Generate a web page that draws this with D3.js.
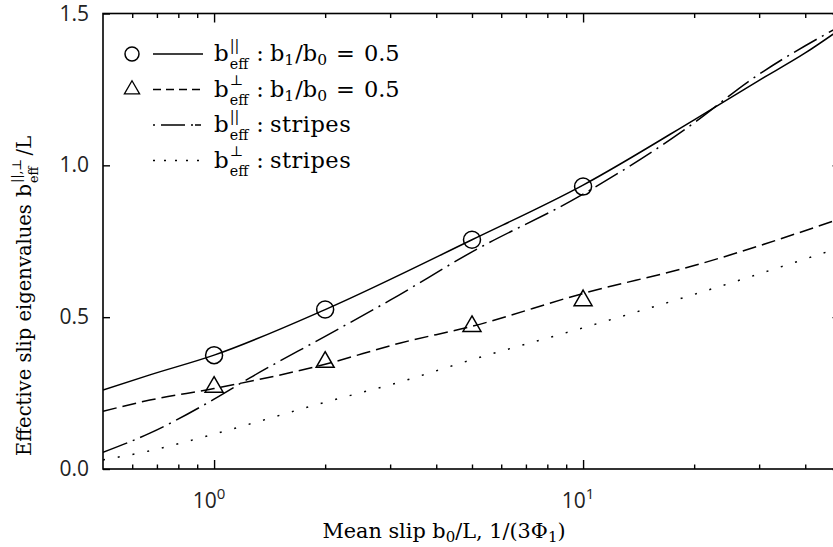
<!DOCTYPE html>
<html><head><meta charset="utf-8">
<script src="https://cdn.jsdelivr.net/npm/d3@7"></script>
<style>
html,body{margin:0;padding:0;background:#fff;}
svg{display:block;}
</style></head>
<body>
<svg id="chart" width="833" height="547"></svg>
<script>
// ---- data ----
const xSolid = [0.5, 0.67, 1, 2, 5, 10, 20, 30, 40, 50];
const ySolid = [0.26, 0.31, 0.375, 0.525, 0.755, 0.935, 1.15, 1.28, 1.37, 1.45];
const xDashed = [0.5, 0.67, 1, 2, 3.2, 5, 10, 20, 50];
const yDashed = [0.19, 0.227, 0.265, 0.345, 0.415, 0.47, 0.578, 0.67, 0.825];
const xDashDot = [0.5, 0.67, 1, 1.25, 2, 3, 5, 10, 20, 28, 50];
const yDashDot = [0.055, 0.118, 0.23, 0.30, 0.437, 0.556, 0.715, 0.905, 1.14, 1.275, 1.46];
const xDotted = [0.5, 0.67, 1, 2, 3.2, 5, 10, 20, 50];
const yDotted = [0.03, 0.06, 0.115, 0.22, 0.287, 0.36, 0.465, 0.575, 0.73];
const xCircles = [1, 2, 5, 10];
const yCircles = [0.375, 0.525, 0.755, 0.93];
const xTriangles = [1, 2, 5, 10];
const yTriangles = [0.27, 0.352, 0.47, 0.555];
const yTickValues = [0, 0.5, 1.0, 1.5];
const yTickLabels = ["0.0", "0.5", "1.0", "1.5"];
const xMajorTicks = [1, 10];
const xMajorExp = ["0", "1"];
const xMinorTicks = [0.6,0.7,0.8,0.9,2,3,4,5,6,7,8,9,20,30,40];

const serif = "'DejaVu Serif', serif";
const sans = "'Open Sans', 'DejaVu Sans', sans-serif";

const svg = d3.select("#chart");
const pL = 103, pR = 841, pT = 13.5, pB = 469;
const x = d3.scaleLog().domain([0.5, 50]).range([pL, pR]);
const y = d3.scaleLinear().domain([0, 1.5]).range([pB, pT]);

// frame
svg.append("rect").attr("x", pL).attr("y", pT).attr("width", pR-pL).attr("height", pB-pT)
  .attr("fill","none").attr("stroke","#000").attr("stroke-width",1.6);

function axisTicks(axis, transform, values, size){
  const g = svg.append("g").attr("transform", transform)
    .call(axis.tickValues(values).tickSize(size).tickFormat(""));
  g.select(".domain").remove();
  g.selectAll("line").attr("stroke","#000").attr("stroke-width",1.4);
  return g;
}
axisTicks(d3.axisBottom(x), `translate(0,${pB})`, xMinorTicks, -4.5);
axisTicks(d3.axisBottom(x), `translate(0,${pB})`, xMajorTicks, -9);
axisTicks(d3.axisTop(x), `translate(0,${pT})`, xMinorTicks, -4.5);
axisTicks(d3.axisTop(x), `translate(0,${pT})`, xMajorTicks, -9);
axisTicks(d3.axisLeft(y), `translate(${pL},0)`, yTickValues, -7);
axisTicks(d3.axisRight(y), `translate(${pR},0)`, yTickValues, -8.5);

// tick labels
svg.append("g").selectAll("text").data(yTickValues).join("text")
  .attr("x", pL - 14).attr("y", d => y(d) + 7)
  .attr("text-anchor","end").attr("font-family", sans).attr("font-size", 21)
  .attr("fill","#222")
  .text((d,i) => yTickLabels[i]);

xMajorTicks.forEach((v,i) => {
  const t = svg.append("text").attr("x", x(v) - 5).attr("y", pB + 39)
    .attr("text-anchor","middle").attr("font-family", sans).attr("font-size", 21).attr("fill","#222");
  t.append("tspan").text("10");
  t.append("tspan").attr("dy", -9).attr("font-size", 15).text(xMajorExp[i]);
});

// lines
const line = d3.line().x(d => x(d[0])).y(d => y(d[1])).curve(d3.curveMonotoneX);
svg.append("clipPath").attr("id","clip").append("rect")
  .attr("x",pL).attr("y",pT).attr("width",pR-pL).attr("height",pB-pT);
const plot = svg.append("g").attr("clip-path","url(#clip)");
function drawLine(xs, ys, dash){
  plot.append("path").datum(xs.map((v,i)=>[v, ys[i]]))
    .attr("d", line).attr("fill","none").attr("stroke","#000").attr("stroke-width",1.5)
    .attr("stroke-dasharray", dash);
}
drawLine(xSolid, ySolid, null);
drawLine(xDashed, yDashed, "14,6");
drawLine(xDashDot, yDashDot, "26,6,2,6");
drawLine(xDotted, yDotted, "2,13");

// markers
plot.append("g").selectAll("circle").data(xCircles).join("circle")
  .attr("cx", d => x(d)).attr("cy", (d,i) => y(yCircles[i])).attr("r", 8.5)
  .attr("fill","none").attr("stroke","#000").attr("stroke-width",1.5);
const tri = d3.symbol().type(d3.symbolTriangle).size(140);
plot.append("g").selectAll("path").data(xTriangles).join("path")
  .attr("transform", (d,i) => `translate(${x(d)},${y(yTriangles[i])})`)
  .attr("d", tri).attr("fill","none").attr("stroke","#000").attr("stroke-width",1.5);

// helper for b with stacked sup/sub
function bLabel(parent, x0, y0, size, sup, sub, family){
  const g = parent.append("g");
  const b = g.append("text").attr("x", x0).attr("y", y0).attr("font-family", family).attr("font-size", size).text("b");
  const w = b.node().getComputedTextLength();
  const s1 = g.append("text").attr("x", x0 + w + 1).attr("y", y0 - size*0.48).attr("font-family", family)
    .attr("font-size", size*0.62).text(sup);
  const s2 = g.append("text").attr("x", x0 + w + 1).attr("y", y0 + size*0.36).attr("font-family", family)
    .attr("font-size", size*0.62).text(sub);
  const w2 = Math.max(s1.node().getComputedTextLength(), s2.node().getComputedTextLength());
  return x0 + w + 1 + w2;
}

// legend
const legendRows = [
  {marker:"circle", dash:null, sup:"||", rest:"b1b0"},
  {marker:"triangle", dash:"8,5", sup:"⊥", rest:"b1b0"},
  {marker:null, dash:"2,6,24,6,2", sup:"||", rest:"stripes"},
  {marker:null, dash:"2,9", sup:"⊥", rest:"stripes"}
];
const lg = svg.append("g");
legendRows.forEach((r,i) => {
  const cy = 54 + i*35.5;
  if (r.marker === "circle") lg.append("circle").attr("cx",132).attr("cy",cy).attr("r",7)
      .attr("fill","none").attr("stroke","#000").attr("stroke-width",1.5);
  if (r.marker === "triangle") lg.append("path").attr("transform",`translate(132,${cy})`)
      .attr("d", d3.symbol().type(d3.symbolTriangle).size(100)).attr("fill","none").attr("stroke","#000").attr("stroke-width",1.3);
  lg.append("line").attr("x1",153).attr("x2",203).attr("y1",cy).attr("y2",cy)
    .attr("stroke","#000").attr("stroke-width",1.5).attr("stroke-dasharray", r.dash);
  const xe = bLabel(lg, 214, cy + 7, 23, r.sup, "eff", serif);
  const t = lg.append("text").attr("x", xe + 8).attr("y", cy + 7).attr("font-family", serif).attr("font-size", 22.5);
  if (r.rest === "b1b0") {
    t.append("tspan").text(":");
    t.append("tspan").attr("dx",6).text("b");
    t.append("tspan").attr("font-size",15.5).attr("dy",4).text("1");
    t.append("tspan").attr("dy",-4).attr("dx",1).text("/b");
    t.append("tspan").attr("font-size",15.5).attr("dy",4).text("0");
    t.append("tspan").attr("dy",-4).attr("dx",9).text("=");
    t.append("tspan").attr("dx",9).text("0.5");
  } else {
    t.append("tspan").text(":");
    t.append("tspan").attr("dx",6).attr("letter-spacing",0.5).text("stripes");
  }
});

// x label
const xl = svg.append("text").attr("x", 444).attr("y", 538).attr("text-anchor","middle")
  .attr("font-family", serif).attr("font-size", 20.8);
xl.append("tspan").text("Mean slip b");
xl.append("tspan").attr("font-size",15).attr("dy",4).text("0");
xl.append("tspan").attr("dy",-4).text("/L, 1/(3Φ");
xl.append("tspan").attr("font-size",15).attr("dy",4).text("1");
xl.append("tspan").attr("dy",-4).text(")");

// y label (rotated)
const yg = svg.append("g").attr("transform","translate(31,456) rotate(-90)");
const yt = yg.append("text").attr("x",0).attr("y",0).attr("font-family", serif).attr("font-size",19.5)
  .text("Effective slip eigenvalues");
const yw = yt.node().getComputedTextLength();
const ye = bLabel(yg, yw + 7, 0, 20.5, "||,⊥", "eff", serif);
yg.append("text").attr("x", ye + 3).attr("y", 0).attr("font-family", serif).attr("font-size",19.5).text("/L");
</script>
</body></html>
